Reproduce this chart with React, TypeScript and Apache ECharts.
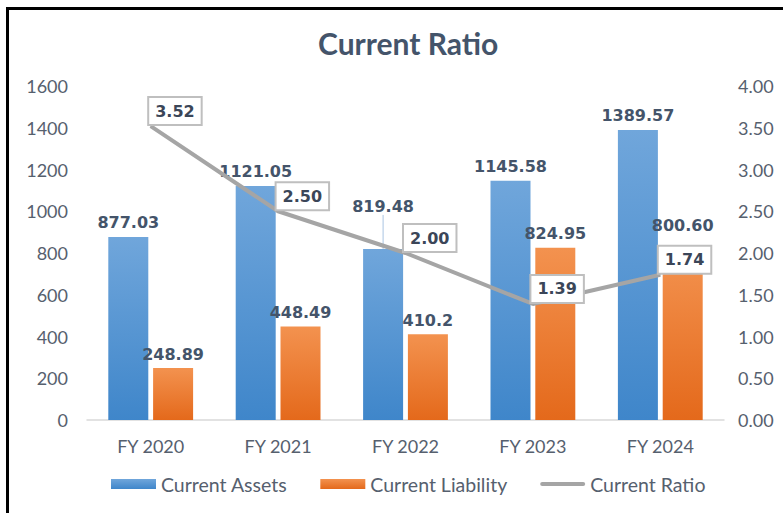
import React, { useEffect, useRef } from "react";
import * as echarts from "echarts";

const categories = ["FY 2020", "FY 2021", "FY 2022", "FY 2023", "FY 2024"];
const currentAssets = [877.03, 1121.05, 819.48, 1145.58, 1389.57];
const currentLiability = [248.89, 448.49, 410.2, 824.95, 800.6];
const liabilityLabels = ["248.89", "448.49", "410.2", "824.95", "800.60"];
const currentRatio = [3.52, 2.5, 2.0, 1.39, 1.74];

export default function App() {
  const ref = useRef<HTMLDivElement>(null);
  useEffect(() => {
    if (!ref.current) return;
    const chart = echarts.init(ref.current, null, { renderer: "svg" });
    const axisFont = { fontFamily: "Lato", fontSize: 18, color: "#56606E" };
    const blue = new echarts.graphic.LinearGradient(0, 0, 0, 1, [
      { offset: 0, color: "#70A6DB" },
      { offset: 1, color: "#3F86CA" },
    ]);
    const orange = new echarts.graphic.LinearGradient(0, 0, 0, 1, [
      { offset: 0, color: "#F3924F" },
      { offset: 1, color: "#E4691B" },
    ]);
    const barLabel = {
      show: true,
      position: "top" as const,
      distance: 6,
      fontFamily: "DejaVu Sans",
      fontWeight: "bold" as const,
      fontSize: 16,
      color: "#44546A",
    };
    chart.setOption({
      animation: false,
      backgroundColor: "#ffffff",
      title: {
        text: "Current Ratio",
        left: 313,
        top: 23,
        textStyle: {
          fontFamily: "Lato",
          fontWeight: "bold",
          fontSize: 30,
          color: "#44546A",
        },
      },
      graphic: [
        {
          type: "rect",
          shape: { x: 7.5, y: 8.5, width: 900, height: 600 },
          style: { fill: "none", stroke: "#000000", lineWidth: 3 },
          z: 100,
        },
      ],
      legend: {
        bottom: 14,
        left: 106,
        itemWidth: 45,
        itemHeight: 10,
        itemGap: 33,
        textStyle: { fontFamily: "Lato", fontSize: 19.5, color: "#56606E", padding: [0, 0, 0, 0] },
        data: [
          { name: "Current Assets", icon: "rect" },
          { name: "Current Liability", icon: "rect" },
          {
            name: "Current Ratio",
            icon: "path://M2,0 L43,0 A2,2 0 0 1 43,4 L2,4 A2,2 0 0 1 2,0 Z",
            itemStyle: { color: "#A5A5A5" },
          },
        ],
      },
      grid: { left: 87, right: 59, top: 86, bottom: 93, containLabel: false },
      xAxis: {
        type: "category",
        data: categories,
        axisLine: { show: true, lineStyle: { color: "#D9D9D9", width: 1.5 } },
        axisTick: { show: false },
        axisLabel: { ...axisFont, margin: 17 },
      },
      yAxis: [
        {
          type: "value",
          min: 0,
          max: 1600,
          interval: 200,
          splitLine: { show: false },
          axisLine: { show: false },
          axisTick: { show: false },
          axisLabel: { ...axisFont, margin: 19, formatter: (v: number) => String(v) },
        },
        {
          type: "value",
          min: 0,
          max: 4,
          interval: 0.5,
          splitLine: { show: false },
          axisLine: { show: false },
          axisTick: { show: false },
          axisLabel: {
            ...axisFont,
            margin: 14,
            formatter: (v: number) => v.toFixed(2),
          },
        },
      ],
      series: [
        {
          name: "Current Assets",
          type: "bar",
          data: currentAssets.map((v, i) =>
            i === 2 ? { value: v, labelLine: { show: true } } : { value: v, labelLine: { show: false } }
          ),
          barWidth: 40,
          barGap: "12%",
          itemStyle: { color: blue },
          label: { ...barLabel },
          labelLayout: (p: any) => (p.dataIndex === 2 ? { dy: -28 } : {}),
          labelLine: { show: false, lineStyle: { color: "#A9C4E2", width: 1 } },
        },
        {
          name: "Current Liability",
          type: "bar",
          data: currentLiability.map((v, i) =>
            i === 4 ? { value: v, label: { distance: 19 } } : v
          ),
          barWidth: 40,
          itemStyle: { color: orange },
          label: {
            ...barLabel,
            formatter: (p: any) => liabilityLabels[p.dataIndex],
          },
        },
        {
          name: "Current Ratio",
          type: "line",
          yAxisIndex: 1,
          data: currentRatio,
          symbol: "circle",
          symbolSize: 1,
          showSymbol: true,
          lineStyle: { color: "#A5A5A5", width: 4 },
          itemStyle: { color: "#A5A5A5" },
          z: 5,
          label: {
            show: true,
            position: "right",
            distance: 0,
            offset: [-2, -15],
            formatter: (p: any) => Number(p.value).toFixed(2),
            fontFamily: "DejaVu Sans",
            fontWeight: "bold",
            fontSize: 16,
            color: "#3B4658",
            backgroundColor: "#FFFFFF",
            borderColor: "#BFBFBF",
            borderWidth: 2,
            padding: [6, 6, 4, 6],
          },
        },
      ],
    });
    return () => chart.dispose();
  }, []);
  return (
    <div
      ref={ref}
      style={{ position: "fixed", left: 0, top: 0, width: 783, height: 513 }}
    />
  );
}
